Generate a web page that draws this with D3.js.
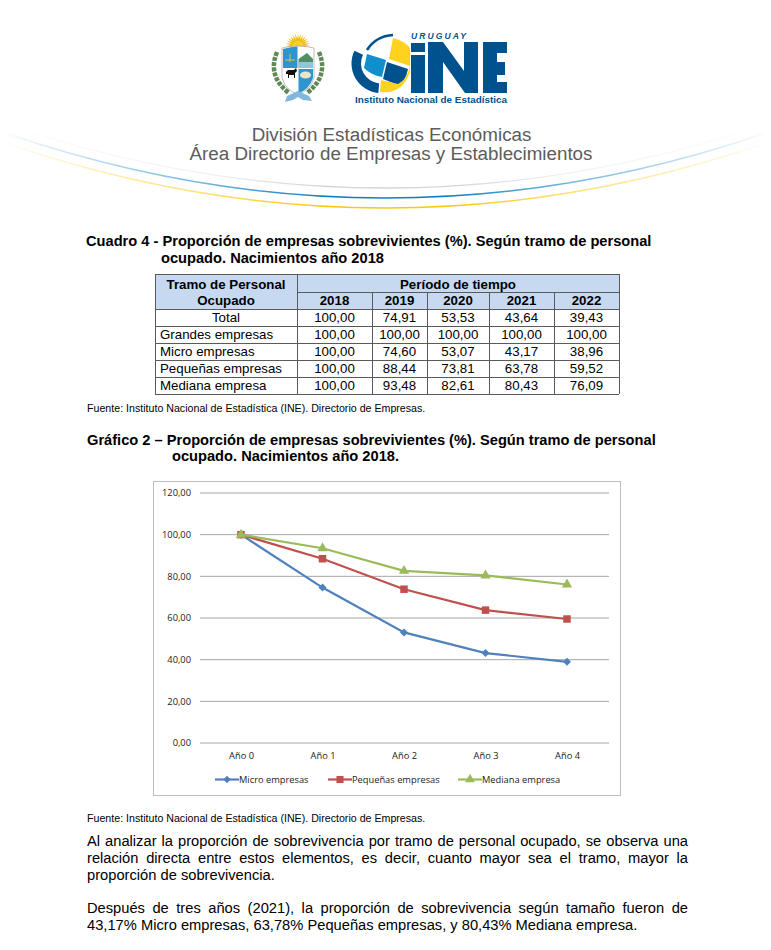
<!DOCTYPE html>
<html lang="es"><head><meta charset="utf-8">
<script src="https://cdn.jsdelivr.net/npm/d3@7"></script>
<style>html,body{margin:0;padding:0;background:#fff}svg{display:block}</style></head>
<body><svg id="page" width="771" height="950"></svg>
<script>
const periods = ["Año 0","Año 1","Año 2","Año 3","Año 4"];
const tableYears = ["2018","2019","2020","2021","2022"];
const tableRowNames = ["Total","Grandes empresas","Micro empresas","Pequeñas empresas","Mediana empresa"];
const totalValues = [100,74.91,53.53,43.64,39.43];
const grandesValues = [100,100,100,100,100];
const microValues = [100,74.60,53.07,43.17,38.96];
const pequenasValues = [100,88.44,73.81,63.78,59.52];
const medianaValues = [100,93.48,82.61,80.43,76.09];
const yTicks = [0,20,40,60,80,100,120];
const fmt = d => d3.format(".2f")(d).replace(".",",");
const sans = "'Liberation Sans',Arial,sans-serif", chartFont = "'Open Sans',sans-serif";
const svg = d3.select("#page");
const defs = svg.append("defs");

/* ---------- header ---------- */
function fade(id,c,k){const g=defs.append("linearGradient").attr("id",id).attr("gradientUnits","userSpaceOnUse")
 .attr("x1",8).attr("x2",763).attr("y1",0).attr("y2",0);
 [[0,.03],[.25,.55*k],[.42,1],[.58,1],[.75,.55*k],[1,.03]].forEach(([o,a])=>g.append("stop").attr("offset",o).attr("stop-color",c).attr("stop-opacity",a));}
fade("gG","#d4d4d4",.6);fade("gB","#0b7fc4",1);fade("gY","#fbc80f",1);
[["gG",125,188,1.3],["gB",134,198,1.5],["gY",144,208,1.5]].forEach(([id,a,b,w])=>
 svg.append("path").attr("d",`M8,${a}Q385.5,${2*b-a} 763,${a}`).attr("fill","none").attr("stroke",`url(#${id})`).attr("stroke-width",w));

// Emblem
const em=svg.append("g");
[-1,1].forEach(s=>{
 em.append("path").attr("d",`M${298+s*21},52Q${298+s*31},76 ${298+s*9},93`).attr("fill","none").attr("stroke","#5f8a55").attr("stroke-width",4.5).attr("stroke-dasharray","4 1.2");
});
const sun=em.append("g").attr("transform","translate(298,46)");
d3.range(0,15).forEach(i=>{const a=Math.PI*(1+i/14);sun.append("path")
 .attr("d",`M${-2*Math.sin(a)},${2*Math.cos(a)}L${12.5*Math.cos(a)},${12.5*Math.sin(a)}L${2*Math.sin(a)},${-2*Math.cos(a)}Z`).attr("fill","#f0bd12");});
sun.append("circle").attr("r",5.5).attr("fill","#f7cf2a");
em.append("path").attr("d","M282,48Q298,44 314,48V78Q310,91 298,94Q286,91 282,78Z").attr("fill","#fff").attr("stroke","#a0a0a0").attr("stroke-width",.7);
em.append("path").attr("d","M283,49Q291,46.5 297.5,46.5V68H283Z").attr("fill","#2f95cf");
em.append("path").attr("d","M298.5,59L307,53L313,59V68H298.5Z").attr("fill","#4f8f63");
em.append("path").attr("d","M298.5,62H313V68H298.5Z").attr("fill","#8fc6de");
em.append("path").attr("d","M298.5,69H313V78Q309,90 298.5,93Z").attr("fill","#2f95cf");
em.append("ellipse").attr("cx",305.5).attr("cy",75).attr("rx",5.5).attr("ry",3.6).attr("fill","#efe4c6");
em.append("path").attr("d","M286,72L288,70H294L296,68L297,71L295,73V78H294V75H289V78H288V74H286Z").attr("fill","#111");
em.append("path").attr("d","M285,60H295M290,54V62").attr("stroke","#e1c22e").attr("stroke-width",1).attr("fill","none");
em.append("path").attr("d","M287,96L298,91L309,96L312,101L303,100L298,97L293,100L285,102Z").attr("fill","#7fb8dc");

// INE logo
const navy="#00528f";
const arc=d3.arc();
const lg=svg.append("g");
lg.append("path").attr("transform","translate(381,63.5)").attr("d",arc({innerRadius:20,outerRadius:29.5,startAngle:-3.05,endAngle:-1.12})).attr("fill",navy);
lg.append("path").attr("d","M367,50Q376,36 393,35").attr("fill","none").attr("stroke",navy).attr("stroke-width",2.6);
lg.append("path").attr("d","M367,54L386,60L382,77Q371,75 364,68Z").attr("fill","#0f8fcc");
lg.append("path").attr("d","M387,62L408,69Q406,81 398,85L383,79Z").attr("fill",navy);
lg.append("path").attr("d","M393,38Q405,41 410,48V66L389,59Z").attr("fill","#ffd21f");
lg.append("path").attr("d","M380,92Q402,95 410,72V66Q407,80 398,84L381,80Z").attr("fill","#ffd21f");
svg.append("path").attr("fill",navy).attr("d",
 "M411,43H425V52H411ZM411,55H425V93H411ZM428,42H443L464,71V42H478V93H465L443,62V93H428ZM483,42H507V53H497V62H505V75H497V82H507V93H483Z");
svg.append("text").attr("x",411).attr("y",39).attr("font-family",sans).attr("font-size",8.5).attr("font-weight",700).attr("font-style","italic").attr("letter-spacing",2.1).attr("fill",navy).text("URUGUAY");
svg.append("text").attr("x",355).attr("y",103).attr("font-family",sans).attr("font-size",9.9).attr("font-weight",700).attr("fill",navy).text("Instituto Nacional de Estadística");

/* ---------- text ---------- */
function t(x,y,s,size,o={}){return svg.append("text").attr("x",x).attr("y",y).attr("font-family",o.font||sans)
 .attr("font-size",size).attr("font-weight",o.bold?700:400).attr("fill",o.fill||"#000").attr("text-anchor",o.anchor||"start").text(s);}
function just(x,y,s,size,w){const n=t(x,y,s,size);const extra=w-n.node().getComputedTextLength();const gaps=s.split(" ").length-1;n.attr("word-spacing",extra/gaps);}
t(391.5,141,"División Estadísticas Económicas",18.8,{fill:"#5c5c5c",anchor:"middle"});
t(391,160,"Área Directorio de Empresas y Establecimientos",18.8,{fill:"#5c5c5c",anchor:"middle"});
t(86,246,"Cuadro 4 - Proporción de empresas sobrevivientes (%). Según tramo de personal",14.65,{bold:true});
t(161,263,"ocupado. Nacimientos año 2018",14.65,{bold:true});
t(87,412,"Fuente: Instituto Nacional de Estadística (INE). Directorio de Empresas.",10.65);
t(87,445,"Gráfico 2 – Proporción de empresas sobrevivientes (%). Según tramo de personal",14.65,{bold:true});
t(172,461,"ocupado. Nacimientos año 2018.",14.65,{bold:true});
t(87,822,"Fuente: Instituto Nacional de Estadística (INE). Directorio de Empresas.",10.65);
just(87,846,"Al analizar la proporción de sobrevivencia por tramo de personal ocupado, se observa una",14.7,601);
just(87,863,"relación directa entre estos elementos, es decir, cuanto mayor sea el tramo, mayor la",14.7,601);
t(87,880,"proporción de sobrevivencia.",14.7);
just(87,913,"Después de tres años (2021), la proporción de sobrevivencia según tamaño fueron de",14.7,601);
t(87,930,"43,17% Micro empresas, 63,78% Pequeñas empresas, y 80,43% Mediana empresa.",14.7);

/* ---------- table ---------- */
const colX=[155,297,372,427,489,554,619];
const rowY=[274,292,309,326,343,360,377,394];
const rows=[totalValues,grandesValues,microValues,pequenasValues,medianaValues];
svg.append("rect").attr("x",colX[0]).attr("y",rowY[0]).attr("width",colX[6]-colX[0]).attr("height",rowY[2]-rowY[0]).attr("fill","#c6d9f1");
const ln=svg.append("g").attr("stroke","#5a5a5a").attr("stroke-width",1).attr("shape-rendering","crispEdges");
rowY.forEach((y,i)=>{ if(i===1) ln.append("line").attr("x1",colX[1]).attr("x2",colX[6]).attr("y1",y).attr("y2",y);
 else ln.append("line").attr("x1",colX[0]).attr("x2",colX[6]).attr("y1",y).attr("y2",y);});
colX.forEach((x,i)=>{const top=(i===0||i===1||i===6)?rowY[0]:rowY[1];ln.append("line").attr("x1",x).attr("x2",x).attr("y1",top).attr("y2",rowY[7]);});
const ts=13.3;
t(226,289,"Tramo de Personal",ts,{bold:true,anchor:"middle"});
t(226,305,"Ocupado",ts,{bold:true,anchor:"middle"});
t(458,289,"Período de tiempo",ts,{bold:true,anchor:"middle"});
tableYears.forEach((y,i)=>t((colX[i+1]+colX[i+2])/2,305,y,ts,{bold:true,anchor:"middle"}));
tableRowNames.forEach((n,r)=>{
 const by=rowY[r+2]+13;
 if(r===0) t(226,by,n,ts,{anchor:"middle"}); else t(160,by,n,ts);
 rows[r].forEach((v,c)=>t((colX[c+1]+colX[c+2])/2,by,fmt(v),ts,{anchor:"middle"}));
});

/* ---------- chart ---------- */
svg.append("rect").attr("x",153.5).attr("y",481.5).attr("width",467).attr("height",314).attr("fill","#fff").attr("stroke","#bdbdbd");
const x=d3.scalePoint().domain(periods).range([241,567]);
const y=d3.scaleLinear().domain([0,120]).range([743,493]);
const grid=svg.append("g");
grid.selectAll("line").data(yTicks).join("line").attr("x1",200).attr("x2",609).attr("y1",d=>y(d)).attr("y2",d=>y(d)).attr("stroke","#a6a6a6").attr("stroke-width",1);
const yAxis=d3.axisLeft(y).tickValues(yTicks).tickFormat(fmt).tickSize(0).tickPadding(9);
const ya=svg.append("g").attr("transform","translate(200,0)").call(yAxis);
ya.select(".domain").remove();
ya.selectAll("text").attr("font-family",chartFont).attr("font-size",9.3).attr("fill","#222");
const xa=svg.append("g").attr("transform","translate(0,743)").call(d3.axisBottom(x).tickSize(0).tickPadding(9));
xa.select(".domain").remove();
xa.selectAll("text").attr("font-family",chartFont).attr("font-size",9.3).attr("fill","#222");
const series=[
 {name:"Micro empresas",values:microValues,color:"#4f81bd",shape:d3.symbolSquare,size:32,rot:45},
 {name:"Pequeñas empresas",values:pequenasValues,color:"#c0504d",shape:d3.symbolSquare,size:56,rot:0},
 {name:"Mediana empresa",values:medianaValues,color:"#9bbb59",shape:d3.symbolTriangle,size:46,rot:0}];
const line=d3.line().x((d,i)=>x(periods[i])).y(d=>y(d));
series.forEach(s=>{
 const g=svg.append("g");
 g.append("path").attr("d",line(s.values)).attr("fill","none").attr("stroke",s.color).attr("stroke-width",2.2);
 g.selectAll("path.m").data(s.values).join("path").attr("class","m").attr("d",d3.symbol(s.shape,s.size)())
  .attr("transform",(d,i)=>`translate(${x(periods[i])},${y(d)}) rotate(${s.rot})`).attr("fill",s.color);
});
const legX=[215,328,458], legT=[239,352,482];
series.forEach((s,i)=>{
 svg.append("line").attr("x1",legX[i]).attr("x2",legX[i]+24).attr("y1",779.5).attr("y2",779.5).attr("stroke",s.color).attr("stroke-width",2.2);
 svg.append("path").attr("d",d3.symbol(s.shape,s.size*.9)()).attr("transform",`translate(${legX[i]+12},779.5) rotate(${s.rot})`).attr("fill",s.color);
 t(legT[i],783,s.name,9.3,{font:chartFont,fill:"#222"});
});
</script></body></html>
